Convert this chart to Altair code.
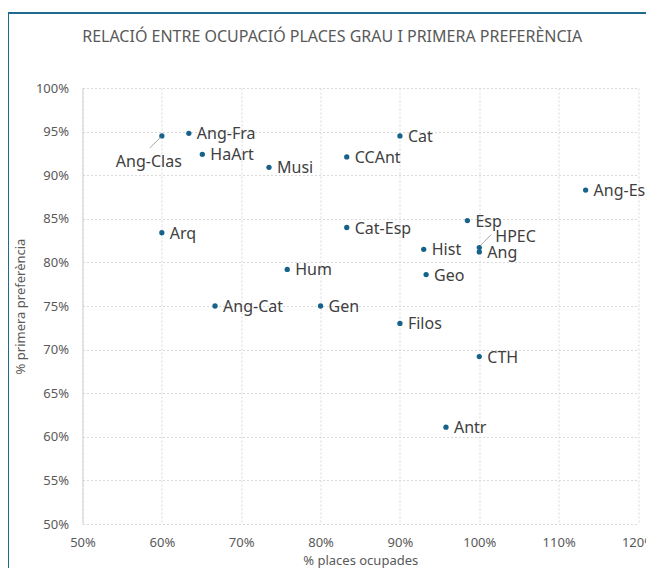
import altair as alt
import pandas as pd

# ---- data ----
grau = ["Ang-Clas", "Ang-Fra", "HaArt", "Musi", "CCAnt", "Cat", "Arq", "Cat-Esp",
        "Hum", "Ang-Cat", "Gen", "Filos", "Esp", "HPEC", "Ang", "Hist", "Geo",
        "CTH", "Antr", "Ang-Esp"]
places_ocupades = [0.600, 0.634, 0.651, 0.735, 0.833, 0.900, 0.600, 0.833,
                   0.758, 0.667, 0.800, 0.900, 0.985, 1.000, 1.000, 0.930, 0.933,
                   1.000, 0.958, 1.134]
primera_pref = [0.945, 0.948, 0.924, 0.909, 0.921, 0.945, 0.834, 0.840,
                0.792, 0.750, 0.750, 0.730, 0.848, 0.817, 0.812, 0.815, 0.786,
                0.692, 0.611, 0.883]
x_ticks = [0.5, 0.6, 0.7, 0.8, 0.9, 1.0, 1.1, 1.2]
y_ticks = [0.5, 0.55, 0.6, 0.65, 0.7, 0.75, 0.8, 0.85, 0.9, 0.95, 1.0]

df = pd.DataFrame({"grau": grau, "places": places_ocupades, "pref": primera_pref})

FONT = "Noto Sans"
DOT = "#17628a"
TXT = "#404040"
AX = "#595959"
FRAME = "#1f6a8f"

x_enc = alt.X("places:Q",
              scale=alt.Scale(domain=[0.5, 1.2], nice=False, zero=False),
              axis=alt.Axis(format=".0%", values=x_ticks, title="% places ocupades",
                            domain=False, labelPadding=12, titlePadding=5))
y_enc = alt.Y("pref:Q",
              scale=alt.Scale(domain=[0.5, 1.0], nice=False, zero=False),
              axis=alt.Axis(format=".0%", values=y_ticks, title="% primera preferència",
                            domain=True, domainColor="#d0d0d0", labelPadding=14,
                            titlePadding=8))

base = alt.Chart(df)

one = pd.DataFrame({"a": [0]})
frame_left = alt.Chart(one).mark_rule(color=FRAME, strokeWidth=2).encode(
    x=alt.value(-74.5), y=alt.value(-75), y2=alt.value(600))
frame_top = alt.Chart(one).mark_rule(color=FRAME, strokeWidth=2).encode(
    x=alt.value(-75.5), x2=alt.value(700), y=alt.value(-75))

points = base.mark_circle(size=28, color=DOT, opacity=1).encode(x=x_enc, y=y_enc)

lab_regular = base.transform_filter(
    "indexof(['Ang-Clas','HPEC'], datum.grau) < 0"
).mark_text(align="left", baseline="middle", dx=8, dy=1, fontSize=16,
            font=FONT, color=TXT).encode(x="places:Q", y="pref:Q", text="grau:N")

lab_clas = base.transform_filter(alt.datum.grau == "Ang-Clas").mark_text(
    align="center", baseline="middle", dx=-13, dy=26, fontSize=16, font=FONT,
    color=TXT).encode(x="places:Q", y="pref:Q", text="grau:N")

lab_hpec = base.transform_filter(alt.datum.grau == "HPEC").mark_text(
    align="left", baseline="middle", dx=16, dy=-11, fontSize=16, font=FONT,
    color=TXT).encode(x="places:Q", y="pref:Q", text="grau:N")

lead_clas = base.transform_filter(alt.datum.grau == "Ang-Clas").mark_rule(
    color="#a6a6a6", strokeWidth=1, xOffset=-1.5, yOffset=1.5,
    x2Offset=-12, y2Offset=12).encode(x="places:Q", y="pref:Q",
                                      x2="places:Q", y2="pref:Q")

lead_hpec = base.transform_filter(alt.datum.grau == "HPEC").mark_rule(
    color="#a6a6a6", strokeWidth=1, xOffset=1.5, yOffset=-2.5,
    x2Offset=12, y2Offset=-13).encode(x="places:Q", y="pref:Q",
                                      x2="places:Q", y2="pref:Q")

chart = alt.layer(
    frame_left, frame_top, points, lead_clas, lead_hpec,
    lab_regular, lab_clas, lab_hpec
).properties(
    width=555.5, height=436,
    title=alt.TitleParams(
        text="RELACIÓ ENTRE OCUPACIÓ PLACES GRAU I PRIMERA PREFERÈNCIA",
        anchor="middle", frame="group", dx=-28, offset=-33, fontSize=16,
        font=FONT, color=AX, fontWeight="normal"),
    autosize=alt.AutoSizeParams(type="none"),
    padding={"left": 74.5, "top": 80, "right": 8, "bottom": 44},
).configure_view(stroke=None).configure_axis(
    grid=True, gridColor="#d9d9d9", gridDash=[2, 2], gridWidth=1,
    ticks=False, labelFlush=False, labelFont=FONT, labelFontSize=13,
    labelColor=AX, titleFont=FONT, titleFontSize=13, titleColor=AX,
    titleFontWeight="normal"
)

chart.save("out.html", embed_options={"renderer": "svg", "actions": False})
